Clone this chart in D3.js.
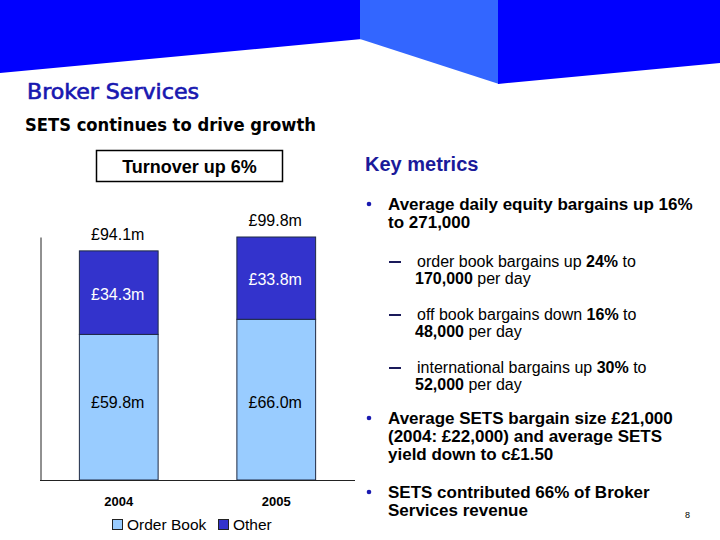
<!DOCTYPE html>
<html><head><meta charset="utf-8">
<script src="https://cdn.jsdelivr.net/npm/d3@7/dist/d3.min.js"></script>
<style>
html,body{margin:0;padding:0;background:#fff;}
svg{display:block;}
text{font-family:"Liberation Sans",Arial,sans-serif;}
</style></head>
<body>
<svg id="c" width="720" height="540"></svg>
<script>
// ---- data ----
const years = ["2004", "2005"];
const orderBook = [59.8, 66.0];
const other = [34.3, 33.8];
const totals = [94.1, 99.8];
const seriesNames = ["Order Book", "Other"];
const seriesColors = ["#99ccff", "#3333cc"];
const fmt = v => "£" + v.toFixed(1) + "m";

const svg = d3.select("#c");

// ---- header shapes ----
svg.append("polygon").attr("points", "0,0 362,0 362,39 0,73").attr("fill", "#0000ff");
svg.append("polygon").attr("points", "360,0 499,0 499,84 360,39").attr("fill", "#3366ff");
svg.append("polygon").attr("points", "498,0 720,0 720,63 498,84").attr("fill", "#0000ff");

svg.append("text").attr("x", 27).attr("y", 99).attr("fill", "#1818b0")
  .style("font-family", "'DejaVu Sans Condensed','DejaVu Sans',sans-serif")
  .style("font-size", "21px").style("stroke", "#1818b0").style("stroke-width", 0.6)
  .attr("textLength", 172).attr("lengthAdjust", "spacingAndGlyphs")
  .text("Broker Services");
svg.append("text").attr("x", 25).attr("y", 131).attr("fill", "#000")
  .style("font-family", "'DejaVu Sans Condensed','DejaVu Sans',sans-serif")
  .style("font-size", "17px").style("font-weight", "bold")
  .attr("textLength", 291).attr("lengthAdjust", "spacingAndGlyphs")
  .text("SETS continues to drive growth");

// ---- turnover box ----
svg.append("rect").attr("x", 96.5).attr("y", 150.5).attr("width", 186).attr("height", 31)
  .attr("fill", "none").attr("stroke", "#000").attr("stroke-width", 1.5);
svg.append("text").attr("x", 189.5).attr("y", 172.5).attr("text-anchor", "middle")
  .style("font-size", "18px").style("font-weight", "bold").text("Turnover up 6%");

// ---- chart ----
const x = d3.scaleBand().domain(years).range([40, 355]).paddingInner(0.5).paddingOuter(0.25);
const y = d3.scaleLinear().domain([0, 99.8]).range([480, 237]);
const obLabelY = y(d3.min(orderBook) / 2) + 1;

const g = svg.append("g");
years.forEach((yr, i) => {
  const x0 = x(yr), w = x.bandwidth();
  g.append("rect").attr("x", x0).attr("y", y(orderBook[i])).attr("width", w)
    .attr("height", y(0) - y(orderBook[i])).attr("fill", seriesColors[0]).attr("stroke", "#1f2a44").attr("stroke-width", 1);
  g.append("rect").attr("x", x0).attr("y", y(totals[i])).attr("width", w)
    .attr("height", y(orderBook[i]) - y(totals[i])).attr("fill", seriesColors[1]).attr("stroke", "#1f2a44").attr("stroke-width", 1);
  const cx = x0 + w / 2 - 1;
  g.append("text").attr("x", cx).attr("y", obLabelY).attr("text-anchor", "middle")
    .style("font-size", "16px").attr("fill", "#000").text(fmt(orderBook[i]));
  g.append("text").attr("x", cx).attr("y", (y(orderBook[i]) + y(totals[i])) / 2 + 7).attr("text-anchor", "middle")
    .style("font-size", "16px").attr("fill", "#fff").text(fmt(other[i]));
  g.append("text").attr("x", cx).attr("y", y(totals[i]) - 11).attr("text-anchor", "middle")
    .style("font-size", "16px").attr("fill", "#000").text(fmt(totals[i]));
});

// axes
const xAxis = svg.append("g").attr("transform", "translate(0,480)")
  .call(d3.axisBottom(x).tickSize(0).tickPadding(17));
xAxis.select(".domain").attr("d", "M40,0.5H355").attr("stroke", "#222");
xAxis.selectAll("text").style("font-size", "13px").style("font-weight", "bold")
  .style("font-family", "'Liberation Sans',Arial,sans-serif").attr("fill", "#000");
const yAxis = svg.append("g").attr("transform", "translate(40.5,0)")
  .call(d3.axisLeft(y).tickValues([]).tickSize(0));
yAxis.select(".domain").attr("stroke", "#222");

// legend
const lx = [112, 218];
seriesNames.forEach((s, i) => {
  svg.append("rect").attr("x", lx[i] + 0.5).attr("y", 519.5).attr("width", 10).attr("height", 10)
    .attr("fill", seriesColors[i]).attr("stroke", "#222").attr("stroke-width", 1);
  svg.append("text").attr("x", lx[i] + 15).attr("y", 530).style("font-size", "15.5px").attr("fill", "#000").text(s);
});

// ---- key metrics ----
svg.append("text").attr("x", 365).attr("y", 171).attr("fill", "#1a1a9a")
  .style("font-size", "20px").style("font-weight", "bold").text("Key metrics");

function richLine(xp, yp, parts, size, baseBold) {
  const t = svg.append("text").attr("x", xp).attr("y", yp).style("font-size", size + "px").attr("fill", "#000");
  parts.forEach(p => {
    const bold = typeof p === "string" ? baseBold : true;
    const s = typeof p === "string" ? p : p.b;
    t.append("tspan").style("font-weight", bold ? "bold" : "normal").text(s);
  });
  return t;
}
function bullet(yp) {
  svg.append("circle").attr("cx", 369).attr("cy", yp - 6).attr("r", 2.3).attr("fill", "#1a1ab0");
}
function dash(yp) {
  svg.append("rect").attr("x", 389).attr("y", yp - 6).attr("width", 12).attr("height", 2).attr("fill", "#1a1a5a");
}

bullet(210);
richLine(388, 210, ["Average daily equity bargains up 16%"], 17, true);
richLine(388, 228, ["to 271,000"], 17, true);

dash(267);
richLine(417, 267, ["order book bargains up ", {b: "24%"}, " to"], 16, false);
richLine(415, 284, [{b: "170,000"}, " per day"], 16, false);
dash(320);
richLine(417, 320, ["off book bargains down ", {b: "16%"}, " to"], 16, false);
richLine(415, 337, [{b: "48,000"}, " per day"], 16, false);
dash(373);
richLine(417, 373, ["international bargains up ", {b: "30%"}, " to"], 16, false);
richLine(415, 390, [{b: "52,000"}, " per day"], 16, false);

bullet(424);
richLine(388, 424, ["Average SETS bargain size £21,000"], 17, true);
richLine(388, 442, ["(2004: £22,000) and average SETS"], 17, true);
richLine(388, 460, ["yield down to c£1.50"], 17, true);

bullet(498);
richLine(388, 498, ["SETS contributed 66% of Broker"], 17, true);
richLine(388, 516, ["Services revenue"], 17, true);

svg.append("text").attr("x", 685).attr("y", 518).style("font-size", "9px").attr("fill", "#000").text("8");
</script>
</body></html>
